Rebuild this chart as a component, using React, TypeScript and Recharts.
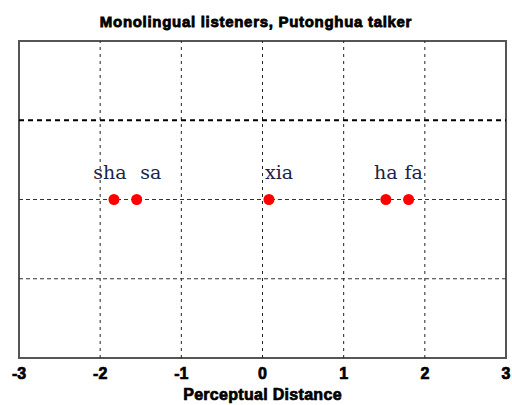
import React from 'react';
import { ScatterChart, Scatter, XAxis, YAxis, ReferenceLine, ReferenceArea } from 'recharts';

// Syllables and their positions on the perceptual dimension
const syllables = ['sha', 'sa', 'xia', 'ha', 'fa'];
const distances = [-1.83, -1.55, 0.08, 1.52, 1.8];
const levels = [0, 0, 0, 0, 0];

const xTicks = [-3, -2, -1, 0, 1, 2, 3];
const xGrid = [-2, -1, 0, 1, 2];
const yGrid = [-1, 0];
const yGridBold = [1];

// horizontal nudges for the syllable labels
const labelNudge = [-4, 14, 10, 0, 5];

const data = syllables.map((name, i) => ({ name, x: distances[i], y: levels[i], i }));

const sans = "'Liberation Sans', Arial, sans-serif";

const Dot = (props: any) => {
  const { cx, cy, payload } = props;
  return (
    <g>
      <text
        x={cx + labelNudge[payload.i]}
        y={cy - 21}
        textAnchor="middle"
        fontFamily="'DejaVu Serif', serif"
        fontSize={19}
        fill="#1c2348"
      >
        {payload.name}
      </text>
      <circle cx={cx} cy={cy} r={5.5} fill="#ff0000" />
    </g>
  );
};

export default function App() {
  return (
    <div style={{ position: 'absolute', left: 0, top: 0, width: 512, height: 405, background: '#fff' }}>
      <div
        style={{
          position: 'absolute',
          left: 0,
          top: 13,
          width: 512,
          textAlign: 'center',
          fontFamily: sans,
          fontWeight: 700,
          fontSize: 15,
          letterSpacing: 0.7,
          WebkitTextStroke: '0.8px #000',
          color: '#000',
        }}
      >
        Monolingual listeners, Putonghua talker
      </div>
      <ScatterChart width={512} height={405} margin={{ top: 41, right: 6, bottom: 0, left: 19 }}>
        <XAxis
          type="number"
          dataKey="x"
          domain={[-3, 3]}
          ticks={xTicks}
          allowDataOverflow
          height={47}
          tickLine={false}
          axisLine={false}
          tickSize={0}
          tickMargin={10}
          interval={0}
          tick={{ fill: '#000', stroke: '#000', strokeWidth: 0.7, fontSize: 16, fontWeight: 700, fontFamily: sans }}
          label={{
            value: 'Perceptual Distance',
            position: 'insideBottom',
            offset: 5,
            fill: '#000',
            stroke: '#000',
            strokeWidth: 0.7,
            fontSize: 16,
            fontWeight: 700,
            fontFamily: sans,
            letterSpacing: 0.3,
          }}
        />
        <YAxis type="number" dataKey="y" domain={[-2, 2]} hide allowDataOverflow />
        {xGrid.map((v) => (
          <ReferenceLine key={'x' + v} x={v} stroke="#222" strokeWidth={1} strokeDasharray="3 4" />
        ))}
        {yGrid.map((v) => (
          <ReferenceLine key={'y' + v} y={v} stroke="#333" strokeWidth={1} strokeDasharray="4 3" />
        ))}
        {yGridBold.map((v) => (
          <ReferenceLine key={'yb' + v} y={v} stroke="#000" strokeWidth={2} strokeDasharray="5 4" />
        ))}
        <ReferenceArea x1={-3} x2={3} y1={-2} y2={2} fill="none" stroke="#555" strokeWidth={2} />
        <Scatter data={data} isAnimationActive={false} shape={Dot} />
      </ScatterChart>
    </div>
  );
}
